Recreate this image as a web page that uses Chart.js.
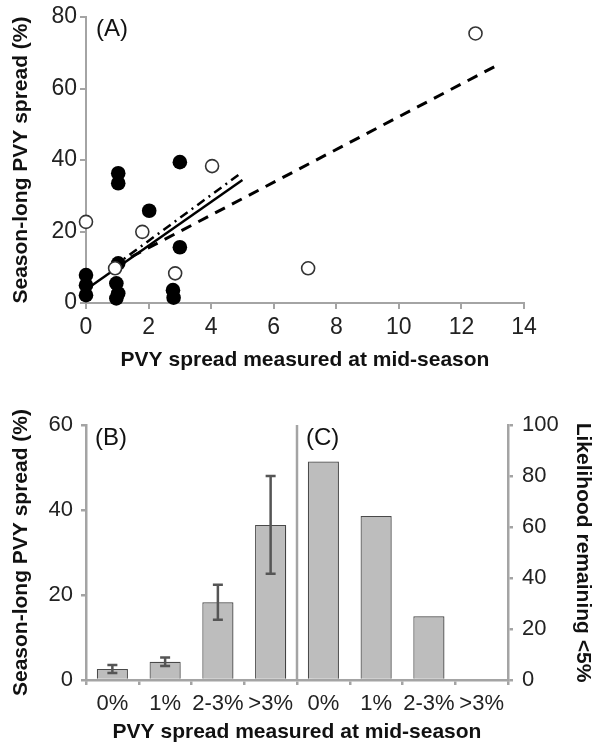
<!DOCTYPE html>
<html>
<head>
<meta charset="utf-8">
<script src="https://cdn.jsdelivr.net/npm/chart.js@4.4.1/dist/chart.umd.min.js"></script>
<style>
  body { margin: 0; background: #fff; }
  #wrap { position: relative; width: 595px; height: 745px; }
  #chartA { position: absolute; left: 0; top: 0; }
  #chartBC { position: absolute; left: 0; top: 373px; }
</style>
</head>
<body>
<div id="wrap">
  <canvas id="chartA" width="595" height="373"></canvas>
  <canvas id="chartBC" width="595" height="372"></canvas>
</div>
<script>
// (A) spread at mid-season vs season-long spread, one point per field
var filledX = [0, 0, 0, 1.03, 1.03, 1.03, 0.97, 1.03, 0.97, 2.02, 3.0, 3.0, 2.78, 2.8];
var filledY = [7.8, 5.0, 2.2, 36.3, 33.5, 11.1, 5.5, 2.7, 1.3, 25.8, 39.4, 15.6, 3.6, 1.5];
var openX = [0, 1.8, 0.93, 2.85, 4.03, 7.1, 12.45];
var openY = [22.7, 19.9, 9.7, 8.3, 38.3, 9.7, 75.4];

// regression lines (end points)
var fitSolidX = [0.15, 5.0];
var fitSolidY = [4.7, 34.4];
var fitDotX = [0.85, 4.87];
var fitDotY = [10.0, 35.8];
var fitDashX = [0.9, 13.12];
var fitDashY = [10.4, 66.4];

// (B) mean season-long spread per class, (C) likelihood of staying under 5%
var classes = ['0%', '1%', '2-3%', '>3%'];
var meanSpread = [2.6, 4.3, 18.3, 36.5];
var errSpread = [0.95, 1.0, 4.1, 11.5];
var likelihood = [85.7, 64.3, 25, 0];

var axisGrey = '#a4a4a4';
var fam = '"Liberation Sans", Arial, Helvetica, sans-serif';
var titleFont = { family: fam, size: 21, weight: 'bold' };

function toPoints(xs, ys) {
    var pts = [];
    for (var i = 0; i < xs.length; i++) {
        pts.push({ x: xs[i], y: ys[i] });
    }
    return pts;
}

function lineSet(xs, ys, width, dash) {
    return {
        data: toPoints(xs, ys),
        showLine: true,
        borderColor: '#000',
        borderWidth: width,
        borderDash: dash,
        pointRadius: 0,
        clip: false
    };
}

// draws a panel letter inside the plot
function panelTag(id, text, getPos) {
    return {
        id: id,
        afterDraw: function(chart) {
            var ctx = chart.ctx;
            var p = getPos(chart);
            ctx.save();
            ctx.font = '24px ' + fam;
            ctx.fillStyle = '#111';
            ctx.textBaseline = 'middle';
            ctx.fillText(text, p.x, p.y);
            ctx.restore();
        }
    };
}

new Chart(document.getElementById('chartA'), {
    type: 'scatter',
    data: {
        datasets: [
            {
                data: toPoints(openX, openY),
                pointRadius: 6.5,
                pointBackgroundColor: '#fff',
                pointBorderColor: '#333',
                pointBorderWidth: 1.6,
                clip: false
            },
            lineSet(fitSolidX, fitSolidY, 2.5, []),
            lineSet(fitDotX, fitDotY, 2.5, [9, 5, 2, 5]),
            lineSet(fitDashX, fitDashY, 3, [11, 8]),
            {
                data: toPoints(filledX, filledY),
                pointRadius: 7.3,
                pointBackgroundColor: '#000',
                pointBorderColor: '#000',
                pointBorderWidth: 0,
                clip: false
            }
        ]
    },
    options: {
        responsive: false,
        animation: false,
        layout: { padding: { top: 17, right: 71, left: 0, bottom: 0 } },
        plugins: { legend: { display: false }, tooltip: { enabled: false } },
        scales: {
            x: {
                type: 'linear', min: 0, max: 14,
                ticks: { stepSize: 2, color: '#222', font: { family: fam, size: 23 }, padding: 5, maxRotation: 0 },
                grid: { drawOnChartArea: false, drawTicks: true, tickLength: 6, color: axisGrey, lineWidth: 2 },
                border: { display: true, color: axisGrey, width: 2 },
                title: { display: true, text: 'PVY spread measured at mid-season', font: titleFont, color: '#111', padding: 0 },
                afterFit: function(s) { s.height = 70; }
            },
            y: {
                min: 0, max: 80,
                ticks: { stepSize: 20, color: '#222', font: { family: fam, size: 23 }, padding: 3 },
                grid: { drawOnChartArea: false, drawTicks: true, tickLength: 6, color: axisGrey, lineWidth: 2 },
                border: { display: true, color: axisGrey, width: 2 },
                title: { display: true, text: 'Season-long PVY spread (%)', font: titleFont, color: '#111', padding: { top: 9, bottom: 9 } },
                afterFit: function(s) { s.width = 86; }
            }
        }
    },
    plugins: [panelTag('tagA', '(A)', function(c) {
        return { x: c.chartArea.left + 10, y: c.chartArea.top + 12 };
    })]
});

// (B) and (C) share one category axis: four classes each
var blanks = [null, null, null, null];

var barShadow = {
    id: 'barShadow',
    beforeDatasetDraw: function(chart) {
        var ctx = chart.ctx;
        ctx.save();
        ctx.shadowColor = 'rgba(0,0,0,0.18)';
        ctx.shadowBlur = 4;
        ctx.shadowOffsetX = 2;
        ctx.shadowOffsetY = 1;
    },
    afterDatasetDraw: function(chart) {
        chart.ctx.restore();
    }
};

var errorBars = {
    id: 'errorBars',
    afterDatasetsDraw: function(chart) {
        var ctx = chart.ctx;
        var ys = chart.scales.y;
        var meta = chart.getDatasetMeta(0);
        ctx.save();
        ctx.strokeStyle = '#555';
        ctx.lineWidth = 2.5;
        for (var i = 0; i < meanSpread.length; i++) {
            var x = meta.data[i].x;
            var top = ys.getPixelForValue(meanSpread[i] + errSpread[i]);
            var bot = ys.getPixelForValue(meanSpread[i] - errSpread[i]);
            ctx.beginPath();
            ctx.moveTo(x, top); ctx.lineTo(x, bot);
            ctx.moveTo(x - 5, top); ctx.lineTo(x + 5, top);
            ctx.moveTo(x - 5, bot); ctx.lineTo(x + 5, bot);
            ctx.stroke();
        }
        ctx.restore();
    }
};

var divider = {
    id: 'divider',
    afterDatasetsDraw: function(chart) {
        var xs = chart.scales.x;
        var area = chart.chartArea;
        var x = (xs.getPixelForValue(3) + xs.getPixelForValue(4)) / 2;
        var ctx = chart.ctx;
        ctx.save();
        ctx.strokeStyle = axisGrey;
        ctx.lineWidth = 2.5;
        ctx.beginPath();
        ctx.moveTo(x, area.top);
        ctx.lineTo(x, area.bottom);
        ctx.stroke();
        ctx.restore();
    }
};

var barStyle = {
    backgroundColor: '#bdbdbd',
    borderColor: '#4d4d4d',
    borderWidth: 1.2,
    barPercentage: 0.59,
    categoryPercentage: 1,
    grouped: false
};

new Chart(document.getElementById('chartBC'), {
    type: 'bar',
    data: {
        labels: classes.concat(classes),
        datasets: [
            Object.assign({ data: meanSpread.concat(blanks), yAxisID: 'y' }, barStyle),
            Object.assign({ data: blanks.concat(likelihood), yAxisID: 'y2' }, barStyle)
        ]
    },
    options: {
        responsive: false,
        animation: false,
        layout: { padding: { top: 52, right: 0, left: 0, bottom: 0 } },
        plugins: { legend: { display: false }, tooltip: { enabled: false } },
        scales: {
            x: {
                offset: true,
                ticks: { color: '#222', font: { family: fam, size: 22 }, padding: 6, maxRotation: 0, autoSkip: false },
                grid: { offset: true, drawOnChartArea: false, drawTicks: true, tickLength: 5, color: axisGrey, lineWidth: 2.5 },
                border: { display: true, color: axisGrey, width: 2.5 },
                title: { display: true, text: 'PVY spread measured at mid-season', font: titleFont, color: '#111', padding: 0 },
                afterFit: function(s) { s.height = 65; }
            },
            y: {
                position: 'left', min: 0, max: 60,
                ticks: { stepSize: 20, color: '#222', font: { family: fam, size: 22 }, padding: 8 },
                grid: { drawOnChartArea: false, drawTicks: true, tickLength: 5, color: axisGrey, lineWidth: 2.5 },
                border: { display: true, color: axisGrey, width: 2.5 },
                title: { display: true, text: 'Season-long PVY spread (%)', font: titleFont, color: '#111', padding: { top: 9, bottom: 9 } },
                afterFit: function(s) { s.width = 86; }
            },
            y2: {
                position: 'right', min: 0, max: 100,
                ticks: { stepSize: 20, color: '#222', font: { family: fam, size: 22 }, padding: 9 },
                grid: { drawOnChartArea: false, drawTicks: true, tickLength: 5, color: axisGrey, lineWidth: 2.5 },
                border: { display: true, color: axisGrey, width: 2.5 },
                title: { display: true, text: 'Likelihood remaining <5%', font: titleFont, color: '#111', padding: 0 },
                afterFit: function(s) { s.width = 87; }
            }
        }
    },
    plugins: [
        barShadow, errorBars, divider,
        panelTag('tagB', '(B)', function(c) {
            return { x: c.chartArea.left + 9, y: c.chartArea.top + 13 };
        }),
        panelTag('tagC', '(C)', function(c) {
            var xs = c.scales.x;
            return { x: (xs.getPixelForValue(3) + xs.getPixelForValue(4)) / 2 + 9, y: c.chartArea.top + 13 };
        })
    ]
});
</script>
</body>
</html>
